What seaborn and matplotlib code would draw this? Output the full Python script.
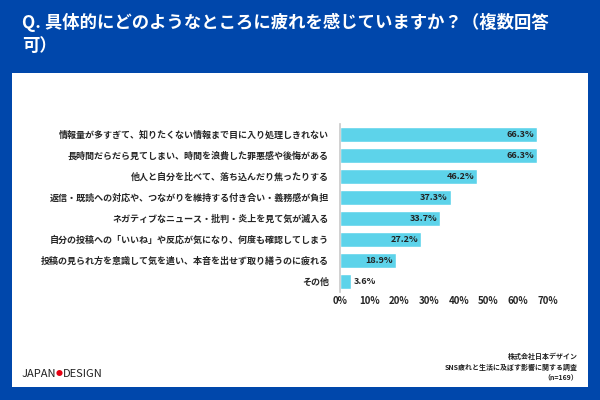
import matplotlib
matplotlib.use("Agg")
import matplotlib.pyplot as plt
import seaborn as sns
import pandas as pd

categories = [
    "情報量が多すぎて、知りたくない情報まで目に入り処理しきれない",
    "長時間だらだら見てしまい、時間を浪費した罪悪感や後悔がある",
    "他人と自分を比べて、落ち込んだり焦ったりする",
    "返信・既読への対応や、つながりを維持する付き合い・義務感が負担",
    "ネガティブなニュース・批判・炎上を見て気が滅入る",
    "自分の投稿への「いいね」や反応が気になり、何度も確認してしまう",
    "投稿の見られ方を意識して気を遣い、本音を出せず取り繕うのに疲れる",
    "その他",
]
values = [66.3, 66.3, 46.2, 37.3, 33.7, 27.2, 18.9, 3.6]
ticks = [0, 10, 20, 30, 40, 50, 60, 70]

sns.set_theme(style="white")
plt.rcParams['font.family'] = ['Noto Sans CJK JP', 'DejaVu Sans']

BLUE = "#0047AB"
fig = plt.figure(figsize=(6, 4), dpi=100)
fig.patch.set_facecolor(BLUE)
bg = fig.add_axes([12/600, 1-387/400, 576/600, (387-73)/400], zorder=-1)
bg.set_facecolor("white")
bg.set_xticks([]); bg.set_yticks([])
for s in bg.spines.values():
    s.set_visible(False)

fig.text(22/600, 1-22/400, "Q. 具体的にどのようなところに疲れを感じていますか？（複数回答", color="white",
         fontsize=12.5, fontweight="bold", va="center")
fig.text(22/600, 1-46/400, "可）", color="white", fontsize=12.5, fontweight="bold", va="center")

ax = fig.add_axes([340/600, 1-292/400, 208/600, (292-124)/400])
ax.set_facecolor("none")
df = pd.DataFrame({"cat": categories, "val": values})
sns.barplot(data=df, x="val", y="cat", color="#5DD3EA", saturation=1, width=0.72, ax=ax)
ax.set_xlim(0, 70)
ax.set_xticks(ticks)
ax.set_xticklabels([f"{t}%" for t in ticks], fontsize=7, fontweight="bold")
ax.tick_params(axis="y", labelsize=6.5, length=0, pad=8)
for lbl in ax.get_yticklabels():
    lbl.set_fontweight("bold")
ax.tick_params(axis="x", length=0, pad=3)
ax.set_xlabel("")
ax.set_ylabel("")
for s in ["top", "right", "bottom"]:
    ax.spines[s].set_visible(False)
ax.spines["left"].set_color("#cccccc")
for i, v in enumerate(values):
    ax.text(v - 1 if v > 10 else v + 1, i, f"{v}%", ha="right" if v > 10 else "left",
            va="center", fontsize=6.5, fontweight="bold", color="#222222")

fig.text(22/600, 1-374/400, "JAPAN", fontsize=8, color="#222222", va="center")
fig.text(56/600, 1-374/400, "●", fontsize=5, color="#e60012", va="center")
fig.text(63/600, 1-374/400, "DESIGN", fontsize=8, color="#222222", va="center")
fig.text(578/600, 1-353/400, "株式会社日本デザイン\nSNS疲れと生活に及ぼす影響に関する調査\n（n=169）",
         fontsize=5, fontweight="bold", ha="right", va="top", color="#222222", linespacing=1.5)

fig.savefig("out.png", dpi=100, facecolor=BLUE)
